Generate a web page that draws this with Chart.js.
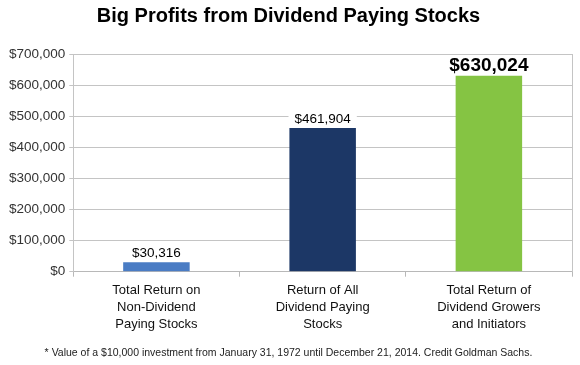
<!DOCTYPE html>
<html>
<head>
<meta charset="utf-8">
<script src="https://cdn.jsdelivr.net/npm/chart.js@4.4.1/dist/chart.umd.min.js"></script>
<style>
  html, body { margin: 0; padding: 0; background: #fff; }
  #wrap { width: 580px; height: 365px; }
</style>
</head>
<body>
<div id="wrap"><canvas id="profitChart" width="580" height="365"></canvas></div>
<script>
// values
const categories = [
  ['Total Return on', 'Non-Dividend', 'Paying Stocks'],
  ['Return of All', 'Dividend Paying', 'Stocks'],
  ['Total Return of', 'Dividend Growers', 'and Initiators']
];
const returns = [30316, 461904, 630024];
const barColors = ['#4a7cc4', '#1c3766', '#85c443'];
const yTicks = [0, 100000, 200000, 300000, 400000, 500000, 600000, 700000];

const FONT = '"Liberation Sans", Arial, sans-serif';

const money = v => '$' + v.toLocaleString('en-US');

// draws the value above each bar (on a white patch, like the original),
// the last one bigger and bold
const valueLabels = {
  id: 'valueLabels',
  afterDatasetsDraw(chart) {
    const ctx = chart.ctx;
    const meta = chart.getDatasetMeta(0);
    ctx.save();
    ctx.textAlign = 'center';
    ctx.textBaseline = 'alphabetic';
    meta.data.forEach((bar, i) => {
      const last = i === meta.data.length - 1;
      const size = last ? 19 : 13.5;
      ctx.font = (last ? 'bold ' : '') + size + 'px ' + FONT;
      const txt = money(returns[i]);
      const w = ctx.measureText(txt).width;
      const base = bar.y - 5;
      ctx.fillStyle = '#fff';
      ctx.fillRect(bar.x - w / 2 - 6, base - size * 0.78, w + 12, size * 0.78 + 3);
      ctx.fillStyle = '#000';
      ctx.fillText(txt, bar.x, base);
    });
    ctx.restore();
  }
};

new Chart(document.getElementById('profitChart').getContext('2d'), {
  type: 'bar',
  data: {
    labels: categories,
    datasets: [{
      data: returns,
      backgroundColor: barColors,
      borderWidth: 0,
      barPercentage: 0.4,
      categoryPercentage: 1
    }]
  },
  options: {
    responsive: false,
    animation: false,
    layout: { padding: { left: 5, right: 8, top: 0, bottom: 2 } },
    plugins: {
      legend: { display: false },
      tooltip: { enabled: false },
      title: {
        display: true,
        text: 'Big Profits from Dividend Paying Stocks',
        color: '#000',
        font: { family: FONT, size: 20, weight: 'bold' },
        padding: { top: 4, bottom: 26 }
      },
      subtitle: {
        display: true,
        position: 'bottom',
        text: '* Value of a $10,000 investment from January 31, 1972 until December 21, 2014. Credit Goldman Sachs.',
        color: '#222',
        font: { family: FONT, size: 10.5 },
        padding: { top: 9, bottom: 4 }
      }
    },
    scales: {
      x: {
        grid: { drawOnChartArea: false, tickLength: 5, color: '#b8b8b8' },
        border: { color: '#b8b8b8' },
        ticks: {
          color: '#111',
          font: { family: FONT, size: 13, lineHeight: 1.3 },
          padding: 5,
          maxRotation: 0
        }
      },
      y: {
        min: 0,
        max: 700000,
        afterBuildTicks: axis => { axis.ticks = yTicks.map(v => ({ value: v })); },
        grid: { color: '#c4c4c4', tickLength: 4 },
        border: { color: '#c4c4c4' },
        ticks: {
          color: '#333',
          font: { family: FONT, size: 13.5 },
          padding: 4,
          callback: v => money(v)
        }
      },
      right: {
        position: 'right',
        display: true,
        grid: { drawOnChartArea: false, drawTicks: false },
        border: { color: '#c4c4c4' },
        ticks: { display: false }
      }
    }
  },
  plugins: [valueLabels]
});
</script>
</body>
</html>
